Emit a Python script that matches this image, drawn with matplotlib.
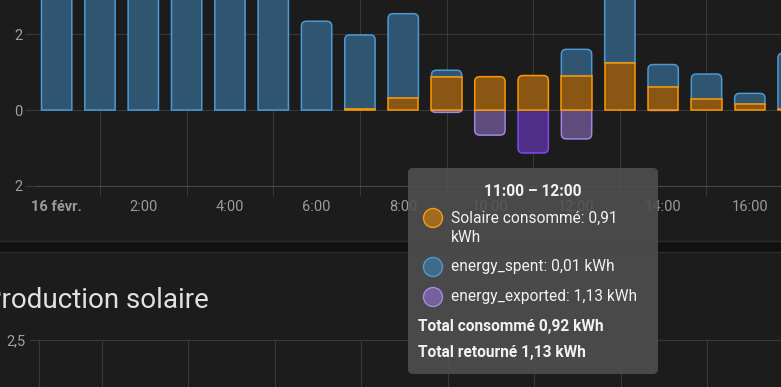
import numpy as np
import matplotlib
matplotlib.use("Agg")
import matplotlib.pyplot as plt
from matplotlib.patches import FancyBboxPatch, Circle, Rectangle, PathPatch
from matplotlib.path import Path
from matplotlib.lines import Line2D
from matplotlib.transforms import IdentityTransform

plt.rcParams["font.family"] = ["Roboto", "DejaVu Sans"]

# hourly energy, 16 févr. (kWh)
hours = np.arange(18)
solar_used = [0, 0, 0, 0, 0, 0, 0, 0.02, 0.31, 0.88, 0.88, 0.91, 0.89, 1.25, 0.60, 0.28, 0.15, 0.03]
grid_spent = [3.5, 3.4, 3.3, 3.4, 3.2, 3.3, 2.34, 1.96, 2.23, 0.17, 0.0, 0.01, 0.71, 2.35, 0.60, 0.67, 0.29, 1.47]
exported = [0, 0, 0, 0, 0, 0, 0, 0, 0, 0.06, 0.66, 1.13, 0.76, 0, 0.01, 0, 0, 0]
tick_hours = list(range(0, 17, 2))
tick_labels = ["16 févr."] + [f"{h}:00" for h in tick_hours[1:]]

BG = "#1c1c1c"
GRID = "#383838"
W, H = 781, 387

fig = plt.figure(figsize=(W / 100, H / 100), dpi=100, facecolor=BG)


def fy(y):
    return 1 - y / H


# ---- top chart ----
ax = fig.add_axes([35 / W, fy(186), 746 / W, 186 / H])
ax.set_facecolor(BG)
ax.set_xlim(-0.5, 16.72)
ax.set_ylim(-2, 2.9)
ax.set_axisbelow(True)

b_solar = ax.bar(hours, solar_used, width=0.7, color="#8a5614", edgecolor="#ff9800", lw=1.1, zorder=3)
b_grid = ax.bar(hours, grid_spent, width=0.7, bottom=solar_used, color="#2f5570",
                edgecolor="#4b9ad6", lw=1.1, zorder=2)
exp_colors = ["#4f2e8a" if h == 11 else "#5e4c7d" for h in hours]
exp_edges = ["#7c4ee8" if h == 11 else "#a283e0" for h in hours]
b_exp = ax.bar(hours, [-e for e in exported], width=0.7, color=exp_colors, edgecolor=exp_edges,
               lw=1.1, zorder=2)

# rounded outer corners like the HA energy card
fig.canvas.draw()
p0 = ax.transData.transform((0, 0))
p1 = ax.transData.transform((1, 1))
rx = 5 / (p1[0] - p0[0])
ry = 5 / (p1[1] - p0[1])


def round_bar(rect):
    x0, w = rect.get_x(), rect.get_width()
    y0, h = rect.get_y(), rect.get_height()
    if h == 0:
        rect.set_visible(False)
        return
    x1, y1 = x0 + w, y0 + h
    r = min(ry, abs(h)) * np.sign(h)
    verts = [(x0, y0), (x0, y1 - r), (x0, y1), (x0 + rx, y1), (x1 - rx, y1),
             (x1, y1), (x1, y1 - r), (x1, y0), (x0, y0)]
    codes = [Path.MOVETO, Path.LINETO, Path.CURVE3, Path.CURVE3, Path.LINETO,
             Path.CURVE3, Path.CURVE3, Path.LINETO, Path.CLOSEPOLY]
    ax.add_patch(PathPatch(Path(verts, codes), facecolor=rect.get_facecolor(),
                           edgecolor=rect.get_edgecolor(), lw=rect.get_linewidth(),
                           zorder=rect.get_zorder()))
    rect.set_visible(False)


for i in range(len(hours)):
    if grid_spent[i] > 0.05:
        round_bar(b_grid[i])
    else:
        b_grid[i].set_visible(False)
        round_bar(b_solar[i])
    if solar_used[i] == 0:
        b_solar[i].set_visible(False)
    round_bar(b_exp[i])

for s in ["top", "right", "left"]:
    ax.spines[s].set_visible(False)
ax.spines["bottom"].set_color("#474747")

ax.set_xticks(tick_hours)
ax.set_xticklabels(tick_labels)
ax.get_xticklabels()[0].set_fontweight("bold")
ax.set_xticks(range(1, 17, 2), minor=True)
ax.tick_params(axis="x", which="major", length=0, pad=10, labelsize=10.5, labelcolor="#9a9a9a")
ax.tick_params(axis="x", which="minor", length=7.2, color=GRID, width=0.8)
ax.grid(axis="x", which="minor", color=GRID, lw=0.8)

ax.set_yticks([-2, 0, 2])
ax.set_yticklabels(["2", "0", "2"])
ax.tick_params(axis="y", length=7.2, color=GRID, width=0.8, pad=2, labelsize=10.5, labelcolor="#a0a0a0")
ax.grid(axis="y", color=GRID, lw=0.8)

# ---- card gap ----
fig.add_artist(Rectangle((0, fy(252)), 1, 11 / H, transform=fig.transFigure,
                         facecolor="#111111", edgecolor="none", zorder=0.5))
for y in (241, 252):
    fig.add_artist(Line2D([0, 1], [fy(y), fy(y)], transform=fig.transFigure, color="#2c2c2c", lw=1, zorder=0.6))

# ---- second card (cut) ----
fig.text(209 / W, fy(308), "Production solaire", ha="right", va="baseline", fontsize=20, color="#e1e1e1")
ax2 = fig.add_axes([38.5 / W, 0, (W - 38.5) / W, (H - 340) / H])
ax2.set_facecolor(BG)
ax2.set_xlim(-0.468, 16.7)
ax2.set_ylim(2.0, 2.5)
ax2.set_yticks([2.5])
ax2.set_yticklabels(["2,5"])
ax2.tick_params(axis="y", length=7.2, color=GRID, width=0.8, pad=2, labelsize=10.5, labelcolor="#a0a0a0")
ax2.set_xticks([])
ax2.set_xticks(range(1, 17, 2), minor=True)
ax2.tick_params(axis="x", which="minor", length=0)
ax2.grid(axis="x", which="minor", color=GRID, lw=0.8)
for s in ["right", "bottom"]:
    ax2.spines[s].set_visible(False)
for s in ["top", "left"]:
    ax2.spines[s].set_color(GRID)
    ax2.spines[s].set_linewidth(0.8)

# ---- tooltip ----
idt = IdentityTransform()
fig.add_artist(FancyBboxPatch((408, H - 374), 250, 206, boxstyle="round,pad=0,rounding_size=5",
                              transform=idt, facecolor="#505050", alpha=0.88, edgecolor="none", zorder=10))
tip_circles = [(218, "#a06a1f", "#f59a1a"), (267, "#3f6a8a", "#4f9ad0"), (297, "#76619c", "#a68be0")]
for y, fc, ec in tip_circles:
    fig.add_artist(Circle((433, H - y), 9.5, transform=idt, facecolor=fc, edgecolor=ec, lw=1, zorder=11))

tc = "#f2f2f2"
fs = 11.2
fig.text(533 / W, fy(191), "11:00 – 12:00", ha="center", va="center", fontsize=fs,
         fontweight="bold", color=tc, zorder=12)
tip_lines = [(218, "Solaire consommé: 0,91"), (238, "kWh"), (267, "energy_spent: 0,01 kWh"),
             (297, "energy_exported: 1,13 kWh")]
for y, t in tip_lines:
    fig.text(451 / W, fy(y), t, ha="left", va="center", fontsize=fs, color=tc, zorder=12)
for y, t in [(327, "Total consommé 0,92 kWh"), (353, "Total retourné 1,13 kWh")]:
    fig.text(418 / W, fy(y), t, ha="left", va="center", fontsize=fs, fontweight="bold", color=tc, zorder=12)

fig.savefig("out.png", dpi=100, facecolor=BG)
